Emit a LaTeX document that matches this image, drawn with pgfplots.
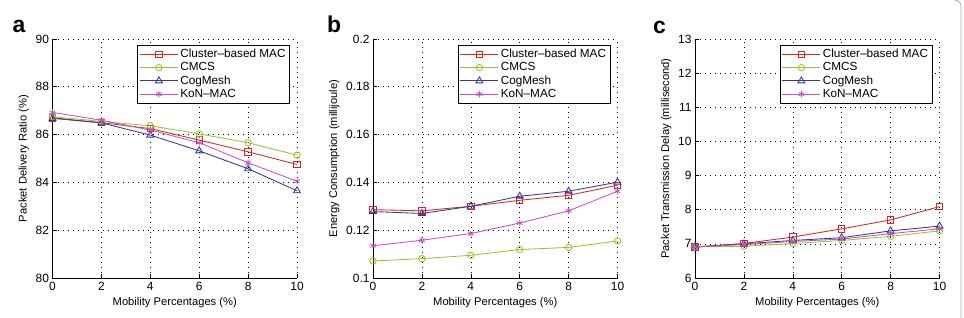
\documentclass[border=0pt]{standalone}
\usepackage{fontspec}
\setmainfont{Liberation Sans}
\usepackage{pgfplots}
\pgfplotsset{compat=1.18}

\definecolor{cbmac}{RGB}{214,40,30}
\definecolor{cmcs}{RGB}{145,200,45}
\definecolor{cogmesh}{RGB}{55,55,150}
\definecolor{konmac}{RGB}{200,80,200}

\tikzset{panel letter/.style={anchor=base west, inner sep=0pt,
    font=\fontsize{23}{26}\selectfont\bfseries}}

\pgfplotsset{
  panel/.style={
    scale only axis,
    width=244.5bp, height=239bp,
    anchor=south west,
    clip=false,
    xmin=0, xmax=10, xtick={0,2,...,10},
    axis x line=bottom, axis y line=left,
    axis line style={-, line width=0.8bp, black},
    tick align=inside,
    major tick length=4bp,
    tick style={black, line width=0.6bp},
    grid=major,
    grid style={black, line width=0.6bp, dash pattern=on 0.7bp off 4.3bp},
    /pgf/number format/assume math mode=true,
    tick label style={font=\fontsize{12}{14}\selectfont},
    label style={font=\fontsize{11.2}{13}\selectfont},
    xlabel={Mobility Percentages (\%)},
    xticklabel style={yshift=-1bp},
    legend cell align=left,
    legend style={
      at={(axis description cs:0.971,0.975)}, anchor=north east,
      font=\fontsize{11.8}{13.8}\selectfont,
      draw=black, line width=0.8bp, fill=white,
      inner xsep=2bp, inner ysep=2bp,
      row sep=-0.6bp,
    },
    legend image code/.code={%
      \draw[mark repeat=2,mark phase=2]
        plot coordinates {(0bp,0bp) (19bp,0bp) (38bp,0bp)};},
    every axis plot/.append style={line width=0.85bp, mark size=3.2bp,
      mark options={solid, fill=none}},
  },
  s1/.style={cbmac, mark=square},
  s2/.style={cmcs, mark=o},
  s3/.style={cogmesh, mark=triangle, mark size=4bp},
  s4/.style={konmac, mark=asterisk},
}

\begin{document}
\begin{tikzpicture}
\useasboundingbox (0,0) rectangle (964bp,318bp);
\draw[black!35, line width=0.8bp] (961bp,0bp) -- (961bp,312bp) arc (0:90:6bp);

% (a) packet delivery ratio
\begin{axis}[panel, at={(52.5bp,40bp)},
  ymin=80, ymax=90, ytick={80,82,...,90},
  ylabel={Packet Delivery Ratio (\%)}]
\addplot[s1] coordinates {(0,86.70) (2,86.50) (4,86.25) (6,85.77) (8,85.28) (10,84.75)};
\addplot[s2] coordinates {(0,86.75) (2,86.55) (4,86.37) (6,86.03) (8,85.66) (10,85.14)};
\addplot[s3] coordinates {(0,86.68) (2,86.49) (4,85.98) (6,85.32) (8,84.57) (10,83.65)};
\addplot[s4] coordinates {(0,86.93) (2,86.60) (4,86.19) (6,85.66) (8,84.82) (10,84.05)};
\legend{Cluster--based MAC, CMCS, CogMesh, KoN--MAC}
\node[panel letter] at (rel axis cs:0,1) [xshift=-40bp, yshift=6bp] {a};
\end{axis}

% (b) energy consumption
\begin{axis}[panel, at={(373bp,40bp)},
  ymin=0.1, ymax=0.2, ytick={0.1,0.12,...,0.2},
  yticklabels={0.1,0.12,0.14,0.16,0.18,0.2},
  ylabel={Energy Consumption (millijoule)}]
\addplot[s1] coordinates {(0,0.1286) (2,0.1281) (4,0.1300) (6,0.1325) (8,0.1346) (10,0.1388)};
\addplot[s2] coordinates {(0,0.1071) (2,0.1081) (4,0.1095) (6,0.1119) (8,0.1128) (10,0.1155)};
\addplot[s3] coordinates {(0,0.1278) (2,0.1270) (4,0.1300) (6,0.1342) (8,0.1363) (10,0.1401)};
\addplot[s4] coordinates {(0,0.1135) (2,0.1158) (4,0.1186) (6,0.1230) (8,0.1281) (10,0.1363)};
\legend{Cluster--based MAC, CMCS, CogMesh, KoN--MAC}
\node[panel letter] at (rel axis cs:0,1) [xshift=-46bp, yshift=6bp] {b};
\end{axis}

% (c) packet transmission delay
\begin{axis}[panel, at={(695bp,40bp)},
  ymin=6, ymax=13, ytick={6,...,13},
  ylabel={Packet Transmission Delay (millisecond)}]
\addplot[s1] coordinates {(0,6.91) (2,7.01) (4,7.20) (6,7.44) (8,7.70) (10,8.09)};
\addplot[s2] coordinates {(0,6.91) (2,6.93) (4,7.01) (6,7.10) (8,7.22) (10,7.38)};
\addplot[s3] coordinates {(0,6.91) (2,7.00) (4,7.10) (6,7.18) (8,7.38) (10,7.52)};
\addplot[s4] coordinates {(0,6.91) (2,6.98) (4,7.07) (6,7.14) (8,7.30) (10,7.44)};
\legend{Cluster--based MAC, CMCS, CogMesh, KoN--MAC}
\node[panel letter] at (rel axis cs:0,1) [xshift=-42bp, yshift=6bp] {c};
\end{axis}
\end{tikzpicture}
\end{document}
